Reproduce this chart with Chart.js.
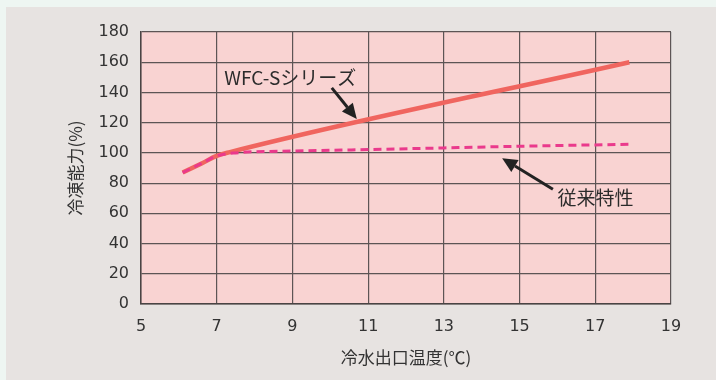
<!DOCTYPE html>
<html>

<head>
    <meta charset="utf-8">
    <script src="https://cdn.jsdelivr.net/npm/chart.js@4.4.1/dist/chart.umd.min.js"></script>
    <style>
        html, body { margin: 0; padding: 0; background: #eef6f2; }
        #chart-container { width: 716px; height: 380px; position: relative; }
    </style>
</head>

<body>
    <div id="chart-container">
        <canvas id="capacityChart"></canvas>
    </div>
    <script>
        // water outlet temp (C) -> refrigeration capacity (%)
        const wfcTemps = [6.1, 6.6, 7.0, 7.35, 17.9];
        const wfcValues = [87, 93, 98, 100.5, 160];
        const oldTemps = [6.1, 6.6, 7.0, 7.5, 9, 11, 13, 15, 17.9];
        const oldValues = [87, 93, 98, 100, 101.2, 102.2, 103.3, 104.4, 105.7];
        const xTicks = [5, 7, 9, 11, 13, 15, 17, 19];
        const yTicks = [0, 20, 40, 60, 80, 100, 120, 140, 160, 180];

        const toPoints = (xs, ys) => xs.map((x, i) => ({ x: x, y: ys[i] }));

        const tickFont = { family: "'DejaVu Sans', sans-serif", size: 16 };
        const cjkFont = "'Noto Sans CJK JP', sans-serif";

        // callouts: text anchor + arrow (tail -> head), in data units
        const callouts = [
            { text: 'WFC-Sシリーズ', tx: 7.2, ty: 149.5, from: [10.04, 143], to: [10.7, 122.5] },
            { text: '従来特性', tx: 16.0, ty: 70, from: [15.88, 76], to: [14.54, 96.5] }
        ];

        const backdrop = {
            id: 'backdrop',
            beforeDraw(chart) {
                const { ctx, chartArea: a } = chart;
                ctx.save();
                ctx.fillStyle = '#eef6f2';
                ctx.fillRect(0, 0, chart.width, chart.height);
                ctx.fillStyle = '#e7e3e1';
                ctx.fillRect(6, 7, chart.width - 6, chart.height - 7);
                ctx.fillStyle = '#f9d3d2';
                ctx.fillRect(a.left, a.top, a.right - a.left, a.bottom - a.top);
                ctx.restore();
            }
        };

        const calloutPlugin = {
            id: 'callouts',
            afterDatasetsDraw(chart) {
                const { ctx, scales: { x, y } } = chart;
                ctx.save();
                callouts.forEach(c => {
                    ctx.font = '19px ' + cjkFont;
                    ctx.fillStyle = '#2b2b2b';
                    ctx.textBaseline = 'middle';
                    ctx.textAlign = 'left';
                    ctx.fillText(c.text, x.getPixelForValue(c.tx), y.getPixelForValue(c.ty));

                    const x1 = x.getPixelForValue(c.from[0]), y1 = y.getPixelForValue(c.from[1]);
                    const x2 = x.getPixelForValue(c.to[0]), y2 = y.getPixelForValue(c.to[1]);
                    const ang = Math.atan2(y2 - y1, x2 - x1);
                    const headLen = 15, headW = 7;
                    const bx = x2 - headLen * Math.cos(ang), by = y2 - headLen * Math.sin(ang);
                    ctx.strokeStyle = '#222';
                    ctx.lineWidth = 3;
                    ctx.beginPath();
                    ctx.moveTo(x1, y1);
                    ctx.lineTo(bx, by);
                    ctx.stroke();
                    ctx.fillStyle = '#222';
                    ctx.beginPath();
                    ctx.moveTo(x2, y2);
                    ctx.lineTo(bx + headW * Math.sin(ang), by - headW * Math.cos(ang));
                    ctx.lineTo(bx - headW * Math.sin(ang), by + headW * Math.cos(ang));
                    ctx.closePath();
                    ctx.fill();
                });
                ctx.restore();
            }
        };

        const ctx = document.getElementById('capacityChart').getContext('2d');

        const capacityChart = new Chart(ctx, {
            type: 'scatter',
            data: {
                datasets: [
                    {
                        label: '従来特性',
                        data: toPoints(oldTemps, oldValues),
                        showLine: true,
                        borderColor: '#ea3a8c',
                        borderWidth: 3,
                        borderDash: [8, 5],
                        pointRadius: 0,
                        cubicInterpolationMode: 'monotone',
                        order: 0
                    },
                    {
                        label: 'WFC-Sシリーズ',
                        data: toPoints(wfcTemps, wfcValues),
                        showLine: true,
                        borderColor: '#f0655f',
                        borderWidth: 4.5,
                        pointRadius: 0,
                        cubicInterpolationMode: 'monotone',
                        order: 1
                    }
                ]
            },
            options: {
                responsive: true,
                maintainAspectRatio: false,
                animation: false,
                layout: { padding: { top: 32, right: 45, left: 0, bottom: 0 } },
                plugins: {
                    legend: { display: false },
                    tooltip: { enabled: false }
                },
                scales: {
                    x: {
                        type: 'linear',
                        min: 5,
                        max: 19,
                        afterFit: scale => { scale.height = 76; },
                        afterBuildTicks: scale => { scale.ticks = xTicks.map(v => ({ value: v })); },
                        ticks: { font: tickFont, color: '#333', padding: 13, maxRotation: 0 },
                        grid: { color: '#5d5555', lineWidth: 1.2, drawTicks: false },
                        border: { color: '#4a4444', width: 1.5 },
                        title: {
                            display: true,
                            text: '冷水出口温度(℃)',
                            font: { family: cjkFont, size: 17 },
                            color: '#333',
                            padding: { top: 0, bottom: 12 }
                        }
                    },
                    y: {
                        min: 0,
                        max: 180,
                        afterFit: scale => { scale.width = 141; },
                        afterBuildTicks: scale => { scale.ticks = yTicks.map(v => ({ value: v })); },
                        ticks: { font: tickFont, color: '#333', padding: 12 },
                        grid: { color: '#5d5555', lineWidth: 1.2, drawTicks: false },
                        border: { color: '#4a4444', width: 1.5 },
                        title: {
                            display: true,
                            text: '冷凍能力(%)',
                            font: { family: cjkFont, size: 17 },
                            color: '#333',
                            padding: { top: 65, bottom: 0 }
                        }
                    }
                }
            },
            plugins: [backdrop, calloutPlugin]
        });
    </script>
</body>

</html>
